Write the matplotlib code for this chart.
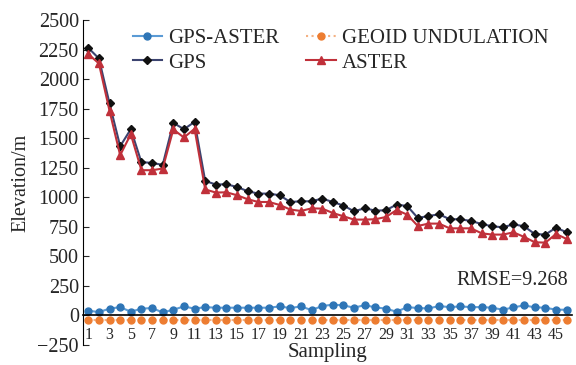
import matplotlib
matplotlib.use("Agg")
import matplotlib.pyplot as plt
import numpy as np

plt.rcParams['font.family'] = ['Liberation Serif', 'DejaVu Serif']
plt.rcParams['text.color'] = '#262626'
plt.rcParams['xtick.color'] = '#262626'
plt.rcParams['ytick.color'] = '#262626'
plt.rcParams['axes.labelcolor'] = '#262626'

samples = np.arange(1, 47)

gps = [2265, 2175, 1794, 1432, 1576, 1297, 1291, 1274, 1630, 1576,
       1638, 1138, 1108, 1110, 1087, 1051, 1031, 1031, 1017, 960,
       966, 966, 989, 960, 930, 881, 907, 887, 890, 938,
       926, 825, 841, 856, 814, 814, 799, 774, 754, 746,
       771, 754, 689, 684, 743, 703]

aster = [2212, 2133, 1732, 1356, 1534, 1229, 1229, 1243, 1574, 1506,
         1579, 1066, 1040, 1042, 1017, 983, 960, 960, 935, 896,
         884, 906, 904, 867, 839, 811, 811, 814, 833, 892,
         853, 757, 777, 777, 737, 737, 737, 695, 684, 684,
         703, 664, 619, 616, 689, 647]

gps_aster = [40, 28, 57, 70, 31, 57, 62, 25, 48, 76,
             57, 70, 65, 65, 65, 65, 65, 65, 76, 62,
             76, 45, 79, 91, 85, 65, 87, 68, 57, 31,
             70, 62, 59, 79, 70, 76, 70, 70, 65, 48,
             68, 85, 68, 65, 48, 48]

geoid = [-35] * 46

yticks = [-250, 0, 250, 500, 750, 1000, 1250, 1500, 1750, 2000, 2250, 2500]
xticks = list(range(1, 47, 2))

fig = plt.figure(figsize=(5.76, 3.65), dpi=100)
ax = fig.add_axes([0.144, 0.055, 0.849, 0.89])

l1, = ax.plot(samples, gps_aster, '-o', color='#5b9bd5', mfc='#2e75b6', mec='#2e75b6',
              ms=5, lw=1.5, label='GPS-ASTER')
l2, = ax.plot(samples, geoid, ':o', color='#f4b183', mfc='#ed7d31', mec='#ed7d31',
              ms=5, lw=1.5, label='GEOID UNDULATION')
l3, = ax.plot(samples, gps, '-D', color='#3c4470', mfc='#111111', mec='#111111',
              ms=4.5, lw=1.5, label='GPS')
l4, = ax.plot(samples, aster, '-^', color='#c0303a', mfc='#c0303a', mec='#c0303a',
              ms=6, lw=1.5, label='ASTER')

ax.set_xlim(0.5, 46.5)
ax.set_ylim(-250, 2500)
ax.set_yticks(yticks)
ax.set_xticks(xticks)
ax.tick_params(axis='y', direction='in', length=4, labelsize=14.5, pad=3)
ax.tick_params(axis='x', length=0, labelsize=11.5, pad=8)

ax.spines['top'].set_visible(False)
ax.spines['right'].set_visible(False)
ax.spines['bottom'].set_position(('data', 0))
ax.spines['bottom'].set_linewidth(1.2)

ax.set_ylabel('Elevation/m', fontsize=14.5, labelpad=5)
ax.set_xlabel('Sampling', fontsize=15, labelpad=0)

ax.text(0.992, 0.197, 'RMSE=9.268', transform=ax.transAxes, ha='right',
        va='center', fontsize=14.5)

ax.legend([l1, l3, l2, l4], ['GPS-ASTER', 'GPS', 'GEOID UNDULATION', 'ASTER'],
          loc='upper left', bbox_to_anchor=(0.085, 1.0), ncol=2, frameon=False,
          fontsize=15, handlelength=1.4, columnspacing=1.3, labelspacing=0.25,
          handletextpad=0.3, borderaxespad=0.0)

fig.savefig('out.png', dpi=100)
